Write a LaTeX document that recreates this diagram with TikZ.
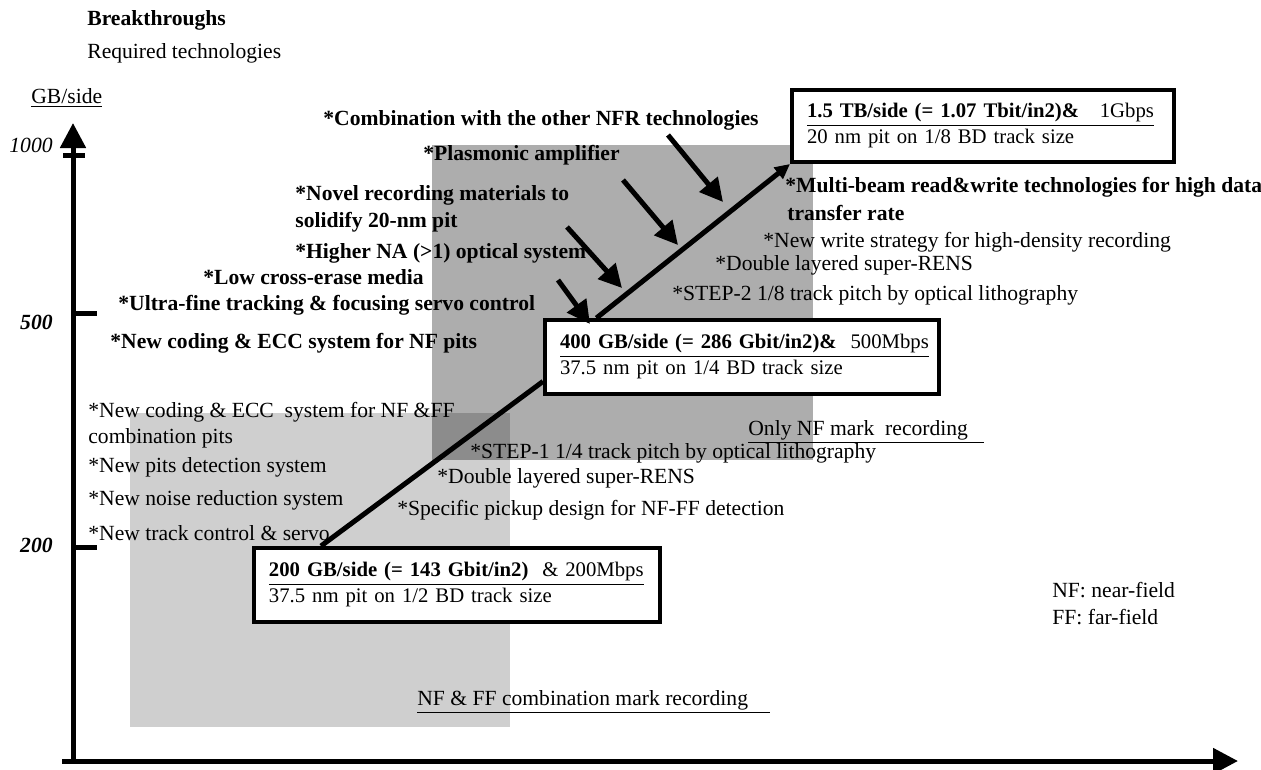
\documentclass[tikz,border=0pt]{standalone}
\usepackage{fontspec}
\setmainfont{Liberation Serif}
\usetikzlibrary{arrows.meta}

\begin{document}
\begin{tikzpicture}[x=0.02cm, y=-0.02cm,
        txt/.style={anchor=west, inner sep=0pt, font=\fontsize{12.3}{14}\selectfont},
        btxt/.style={anchor=west, inner sep=0pt, font=\fontsize{12.3}{14}\selectfont\bfseries},
        axis/.style={line width=0.1cm, -{Triangle[length=0.5cm, width=0.5cm]}},
        tickline/.style={line width=0.1cm},
        push/.style={line width=0.1cm, -{Triangle[length=0.46cm, width=0.46cm]}},
        trend/.style={line width=0.1cm, -{Triangle[length=0.3cm, width=0.28cm]}},
        goal/.style={draw, line width=0.08cm, fill=white, anchor=north west, align=left,
            inner xsep=0.3cm, inner ysep=0pt, font=\fontsize{11.8}{14.8}\selectfont}]
    \useasboundingbox (0,0) rectangle (1261,769);
    % Shaded zones
    \fill[black, fill opacity=0.19] (130,413) rectangle (510,727);
    \fill[black, fill opacity=0.32] (432,145) rectangle (813,460);
    % Heading
    \node[btxt] (head) at (87,20) {Breakthroughs};
    \node[txt] (subhead) at (87,53) {Required technologies};
    % Axes
    \coordinate (origin) at (73,761);
    \coordinate (ytip) at (73,123);
    \coordinate (xstart) at (62,761);
    \coordinate (xtip) at (1238,761);
    \draw[axis] (origin) -- (ytip);
    \draw[axis] (xstart) -- (xtip);
    \node[txt] (unit) at (31,98) {\underline{GB/side}};
    \draw[tickline] (63,155) -- (85,155);
    \draw[tickline] (73,313) -- (97,313);
    \draw[tickline] (73,547) -- (97,547);
    \node[anchor=east, inner sep=0pt, font=\fontsize{12.3}{14}\selectfont\itshape] (l1000) at (53,145) {1000};
    \node[anchor=east, inner sep=0pt, font=\fontsize{12.3}{14}\selectfont\bfseries\itshape] (l500) at (53,322) {500};
    \node[anchor=east, inner sep=0pt, font=\fontsize{12.3}{14}\selectfont\bfseries\itshape] (l200) at (53,545) {200};
    % Target boxes
    \node[goal, text width=7.52cm, minimum height=1.48cm] (box200) at (252,546)
        {\underline{\textbf{200 GB/side (= 143 Gbit/in2)}\ \ \& 200Mbps}\\37.5 nm pit on 1/2 BD track size};
    \node[goal, text width=7.28cm, minimum height=1.48cm] (box400) at (543,318)
        {\underline{\textbf{400 GB/side (= 286 Gbit/in2)\&}\ \ 500Mbps}\\37.5 nm pit on 1/4 BD track size};
    \node[goal, text width=7.04cm, minimum height=1.44cm] (box15) at (790,88)
        {\underline{\textbf{1.5 TB/side (= 1.07 Tbit/in2)\&}\ \ \ 1Gbps}\\20 nm pit on 1/8 BD track size};
    % Trend line
    \draw[tickline] (box200.164) -- (box400.187);
    \draw[trend] (box400.165) -- (box15.south west);
    % Breakthroughs (bold)
    \node[btxt] (nfr) at (323,120) {*Combination with the other NFR technologies};
    \node[btxt] (plasmon) at (423,155) {*Plasmonic amplifier};
    \node[btxt] (novel) at (295,195) {*Novel recording materials to};
    \node[btxt] (novelb) at (295,222) {solidify 20-nm pit};
    \node[btxt] (highna) at (295,253) {*Higher NA (>1) optical system};
    \node[btxt] (erase) at (203,277) {*Low cross-erase media};
    \node[btxt] (servo) at (118,305) {*Ultra-fine tracking \& focusing servo control};
    \node[btxt] (ecc) at (110,343) {*New coding \& ECC system for NF pits};
    \node[btxt] (multi) at (785,187) {*Multi-beam read\&write technologies for high data};
    \node[btxt] (multib) at (787,213) {transfer rate};
    % Pushing arrows
    \coordinate (p1) at (668,135); \coordinate (q1) at (723,202);
    \coordinate (p2) at (623,180); \coordinate (q2) at (678,245);
    \coordinate (p3) at (567,227); \coordinate (q3) at (622,288);
    \coordinate (p4) at (558,280); \coordinate (q4) at (590,324);
    \foreach \i in {1,...,4}
        \draw[push] (p\i) -- (q\i);
    % Required technologies, NF stage
    \node[txt] (write) at (763,242) {*New write strategy for high-density recording};
    \node[txt] (rens2) at (715,265) {*Double layered super-RENS};
    \node[txt] (step2) at (672,295) {*STEP-2 1/8 track pitch by optical lithography};
    \node[txt] (onlynf) at (748,432) {\underline{Only NF mark\ \ recording\ \ \ }};
    \node[txt] (step1) at (470,453) {*STEP-1 1/4 track pitch by optical lithography};
    \node[txt] (rens1) at (437,478) {*Double layered super-RENS};
    \node[txt] (pickup) at (397,510) {*Specific pickup design for NF-FF detection};
    % Required technologies, NF & FF stage
    \node[txt] (eccff) at (88,412) {*New coding \& ECC\ \ system for NF \&FF};
    \node[txt] (eccffb) at (88,438) {combination pits};
    \node[txt] (detect) at (88,467) {*New pits detection system};
    \node[txt] (noise) at (88,500) {*New noise reduction system};
    \node[txt] (track) at (88,533) {*New track control \& servo};
    \node[txt] (nfff) at (417,702) {\underline{NF \& FF combination mark recording\ \ \ \ }};
    % Legend
    \node[txt] (nf) at (1052,590) {NF: near-field};
    \node[txt] (ff) at (1052,617) {FF: far-field};
\end{tikzpicture}
\end{document}
